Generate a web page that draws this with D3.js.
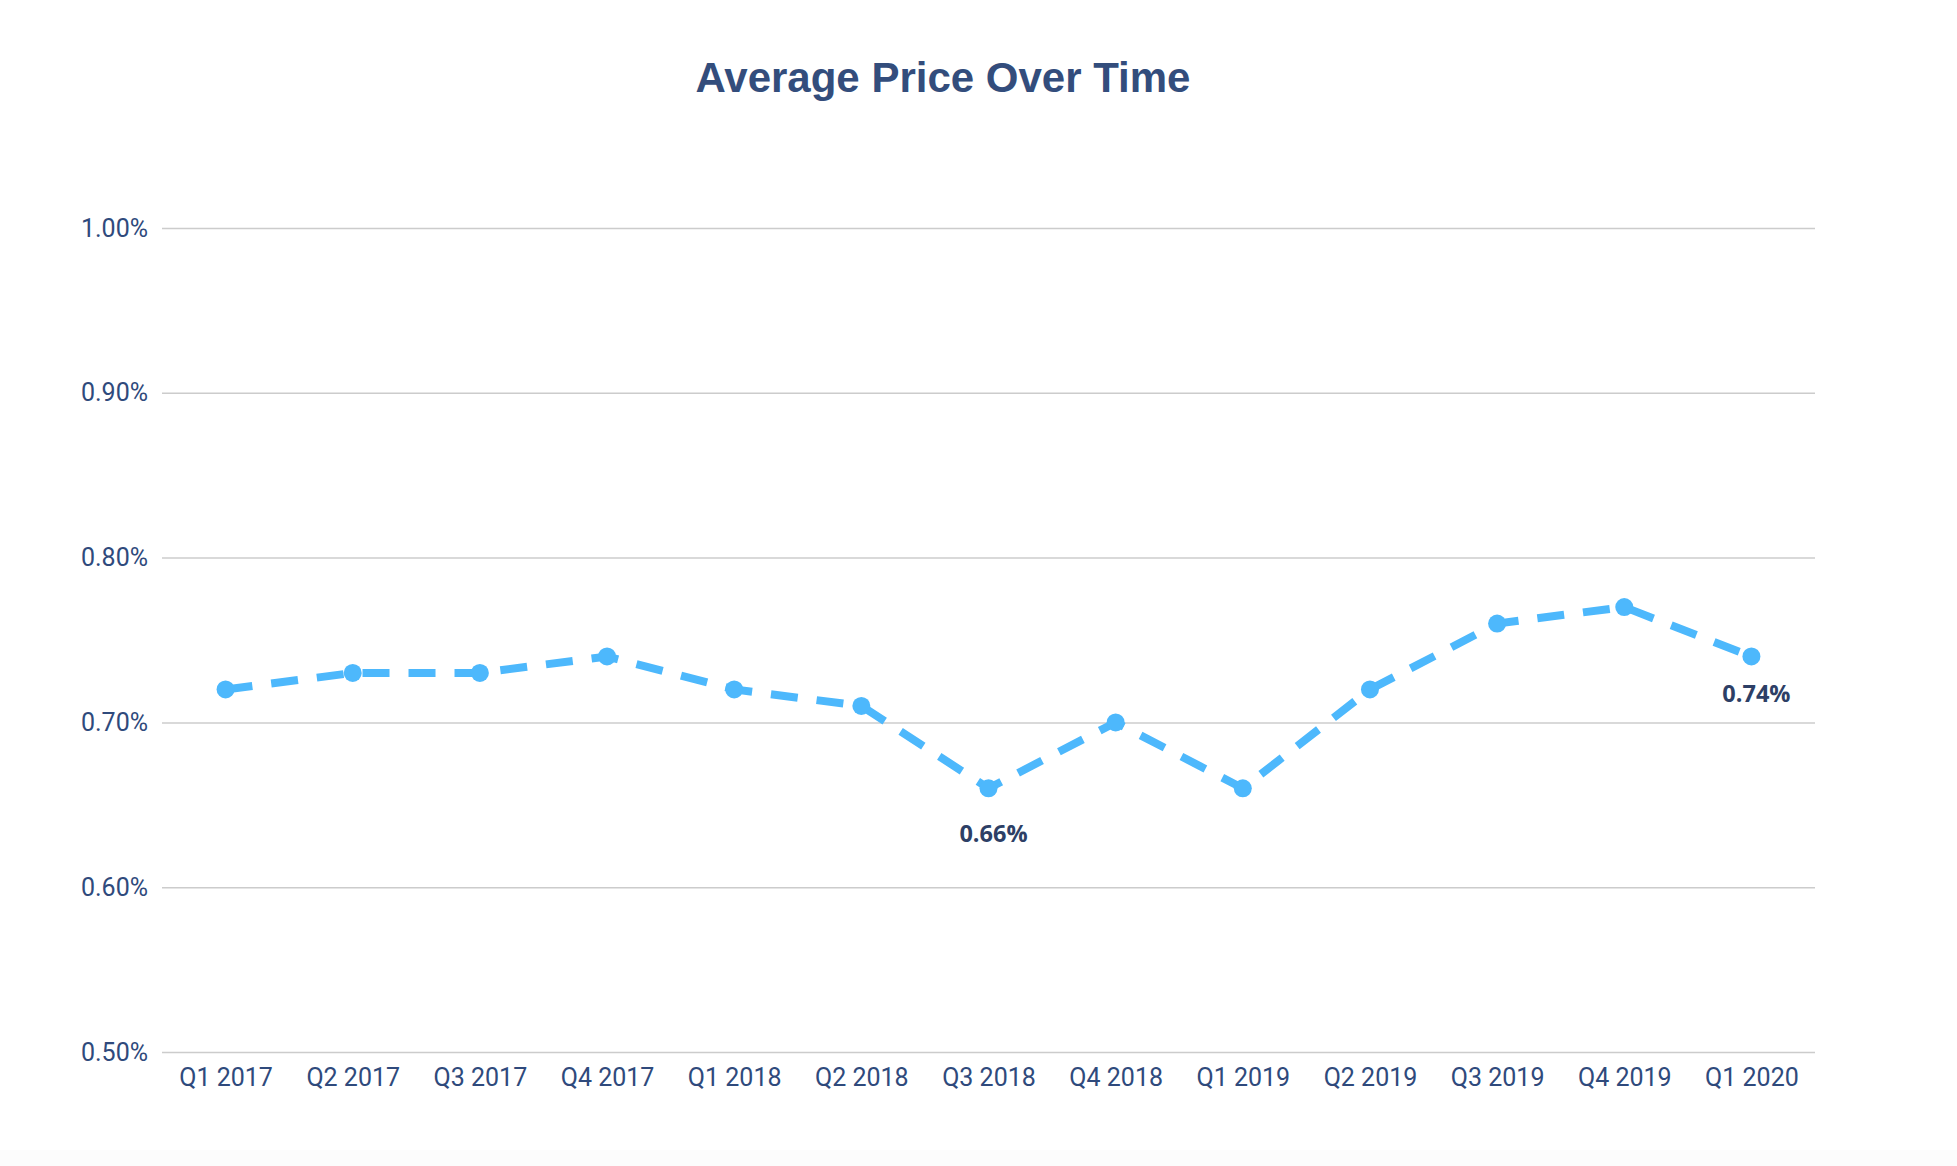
<!DOCTYPE html>
<html>
<head>
<meta charset="utf-8">
<script src="https://cdn.jsdelivr.net/npm/d3@7"></script>
<style>
  html, body { margin: 0; padding: 0; background: #ffffff; }
  svg { display: block; }
</style>
</head>
<body>
<svg id="chart" width="1957" height="1166"></svg>
<script>
const categories = ["Q1 2017","Q2 2017","Q3 2017","Q4 2017","Q1 2018","Q2 2018","Q3 2018","Q4 2018","Q1 2019","Q2 2019","Q3 2019","Q4 2019","Q1 2020"];
const values = [0.72, 0.73, 0.73, 0.74, 0.72, 0.71, 0.66, 0.70, 0.66, 0.72, 0.76, 0.77, 0.74];
const yTicks = [0.50, 0.60, 0.70, 0.80, 0.90, 1.00];
const labelled = ["Q3 2018", "Q1 2020"];
const title = "Average Price Over Time";

const W = 1957, H = 1166;
const margin = {left: 162, right: W - 1815, top: 228, bottom: H - 1052};
const svg = d3.select("#chart");

svg.append("rect").attr("x", 0).attr("y", 1150).attr("width", W).attr("height", H - 1150).attr("fill", "#fcfcfc");

const x = d3.scalePoint().domain(categories).range([margin.left, W - margin.right]).padding(0.5);
const y = d3.scaleLinear().domain([0.5, 1.0]).range([H - margin.bottom, margin.top]);

const navy = "#2f4a7c";
const labelFont = "Roboto, 'Noto Sans', sans-serif";

// title
svg.append("text")
  .attr("x", 943).attr("y", 92)
  .attr("text-anchor", "middle")
  .attr("font-family", "'Liberation Sans', Arial, sans-serif")
  .attr("font-weight", "bold")
  .attr("font-size", 42)
  .attr("fill", "#334d7c")
  .text(title);

// grid + y axis
const yAxis = d3.axisLeft(y).tickValues(yTicks)
  .tickSize(-(W - margin.left - margin.right))
  .tickPadding(14)
  .tickFormat(d => d.toFixed(2) + "%");
const gy = svg.append("g").attr("transform", `translate(${margin.left},0)`).call(yAxis);
gy.select(".domain").remove();
gy.selectAll(".tick line").attr("stroke", "#cccccc").attr("stroke-width", 1.5);
gy.selectAll(".tick text")
  .attr("font-family", labelFont).attr("font-size", 25).attr("fill", navy);

// x axis
const xAxis = d3.axisBottom(x).tickSize(0).tickPadding(16);
const gx = svg.append("g").attr("transform", `translate(0,${H - margin.bottom})`).call(xAxis);
gx.select(".domain").remove();
gx.selectAll(".tick text")
  .attr("font-family", labelFont).attr("font-size", 25).attr("fill", navy);

// line
const line = d3.line().x((d, i) => x(categories[i])).y(d => y(d));
svg.append("path")
  .datum(values)
  .attr("d", line)
  .attr("fill", "none")
  .attr("stroke", "#4db8fc")
  .attr("stroke-width", 8)
  .attr("stroke-dasharray", "27,19");

svg.selectAll("circle.pt")
  .data(values)
  .enter().append("circle")
  .attr("class", "pt")
  .attr("cx", (d, i) => x(categories[i]))
  .attr("cy", d => y(d))
  .attr("r", 9)
  .attr("fill", "#4db8fc");

// data labels
const lab = categories.map((c, i) => ({c, v: values[i], i})).filter(d => labelled.includes(d.c));
const minV = d3.min(values);
svg.selectAll("text.dl")
  .data(lab)
  .enter().append("text")
  .attr("class", "dl")
  .attr("x", d => x(d.c) + 5)
  .attr("y", d => y(d.v) + (d.v === minV ? 54 : 46))
  .attr("text-anchor", "middle")
  .attr("font-family", "'Open Sans', 'Noto Sans', sans-serif")
  .attr("font-weight", "bold")
  .attr("font-size", 23.5)
  .attr("fill", "#2d3f66")
  .text(d => d.v.toFixed(2) + "%");
</script>
</body>
</html>
